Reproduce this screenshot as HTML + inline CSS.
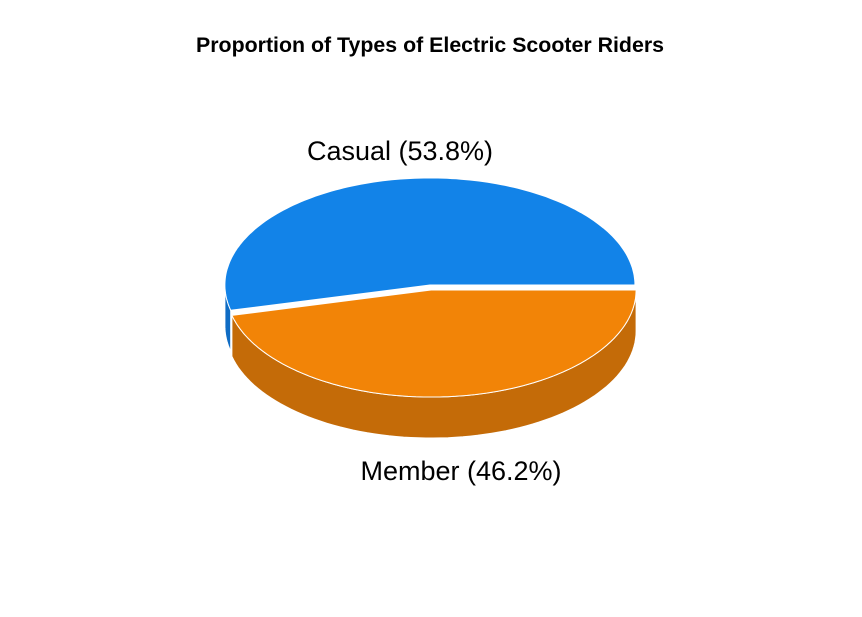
<!DOCTYPE html>
<html><head><meta charset="utf-8"><style>
body{margin:0;background:#fff}
svg{display:block;font-family:"Liberation Sans",Arial,sans-serif}
</style></head><body>
<svg id="chart" width="862" height="617">
<text x="430" y="52" text-anchor="middle" font-size="21" font-weight="bold" textLength="468" lengthAdjust="spacingAndGlyphs">Proportion of Types of Electric Scooter Riders</text>
<g id="slices"></g>
<g id="labels"></g>
</svg>
<script>
const categories = ["Casual", "Member"];
const values = [53.8, 46.2];
const topColors = ["#1283e8", "#f28407"];
const sideColors = ["#0f6cc4", "#c46b08"];
const labelPos = [[400, 160], [461, 480]];

const cx = 430.5, cy = 287.5, rx = 205, ry = 107, h = 41, ex = 0.024;
const NS = "http://www.w3.org/2000/svg";
const g = document.getElementById("slices");
const lg = document.getElementById("labels");
const total = values.reduce((a, b) => a + b, 0);
function pt(c, a, dy) { return [c[0] + rx * Math.cos(a), c[1] - ry * Math.sin(a) + (dy || 0)]; }
let start = 0;
const slices = [];
values.forEach((v, i) => {
  const a1 = start, a2 = start + v / total * 2 * Math.PI;
  const mid = (a1 + a2) / 2;
  const c = [cx + ex * rx * Math.cos(mid), cy - ex * ry * Math.sin(mid)];
  slices.push({ a1, a2, c, i });
  start = a2;
});
slices.forEach(s => {
  const lo = Math.max(s.a1, Math.PI), hi = Math.min(s.a2, 2 * Math.PI);
  if (hi <= lo) return;
  const n = 80; let top = [], bot = [];
  for (let k = 0; k <= n; k++) { const a = lo + (hi - lo) * k / n; top.push(pt(s.c, a)); bot.push(pt(s.c, a, h)); }
  const pts = top.concat(bot.reverse());
  const p = document.createElementNS(NS, "path");
  p.setAttribute("d", "M" + pts.map(q => q[0].toFixed(1) + "," + q[1].toFixed(1)).join("L") + "Z");
  p.setAttribute("fill", sideColors[s.i]); p.setAttribute("stroke", "#fff"); p.setAttribute("stroke-width", "1");
  
  
  g.appendChild(p);
});
slices.forEach(s => {
  const n = 150; let pts = [s.c];
  for (let k = 0; k <= n; k++) pts.push(pt(s.c, s.a1 + (s.a2 - s.a1) * k / n));
  const p = document.createElementNS(NS, "path");
  p.setAttribute("d", "M" + pts.map(q => q[0].toFixed(1) + "," + q[1].toFixed(1)).join("L") + "Z");
  p.setAttribute("fill", topColors[s.i]); p.setAttribute("stroke", "#fff"); p.setAttribute("stroke-width", "1");
  
  
  g.appendChild(p);
  const t = document.createElementNS(NS, "text");
  t.setAttribute("x", labelPos[s.i][0]); t.setAttribute("y", labelPos[s.i][1]);
  t.setAttribute("text-anchor", "middle"); t.setAttribute("font-size", "27");
  t.textContent = categories[s.i] + " (" + (values[s.i] / total * 100).toFixed(1) + "%)";
  
  
  lg.appendChild(t);
});
</script>
</body></html>
